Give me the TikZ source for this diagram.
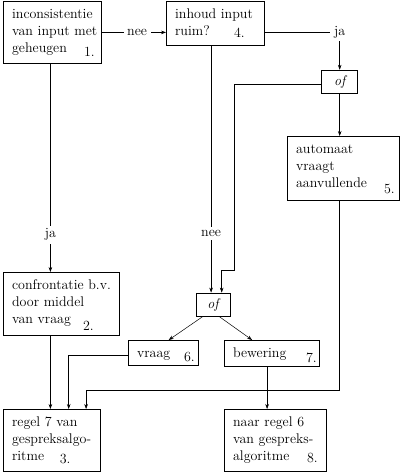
\documentclass[tikz,border=0pt]{standalone}
\usepackage{fontspec}
\usetikzlibrary{arrows.meta}
\newcommand{\tekst}{\fontsize{14}{17}\selectfont\hyphenpenalty=10000}
\begin{document}
\begin{tikzpicture}[x=1pt,y=-1pt,
        blok/.style={draw,line width=0.8pt,anchor=north west,align=left,inner xsep=8.7pt,inner ysep=0pt,text height=17.5pt,font=\tekst},
        ofblok/.style={draw,line width=0.8pt,minimum width=36pt,minimum height=23pt,inner sep=0pt,font=\tekst\itshape},
        nummer/.style={anchor=base east,inner sep=0pt,font=\tekst},
        etiket/.style={fill=white,inner xsep=3.5pt,inner ysep=3pt,font=\tekst},
        lijn/.style={line width=0.5pt},
        pijl/.style={lijn,-{Stealth[length=5pt,width=3.6pt]}}]
        \useasboundingbox (0,0) rectangle (400,473);
        \node[blok,text width=80.6pt,text depth=44.5pt] (inconsist) at (3,1) {inconsistentie\\van~input~met\\geheugen};
        \node[blok,text width=80.6pt,text depth=26.5pt] (inhoud) at (166,1) {inhoud~input\\ruim?};
        \node[ofblok] (of1) at (339.7,81.7) {of};
        \node[blok,text width=94.6pt,text depth=46.5pt] (automaat) at (287,136) {automaat\\vraagt\\aanvullende};
        \node[blok,text width=98.6pt,text depth=45.5pt] (confront) at (3,272) {confrontatie~b.v.\\door~middel\\van~vraag};
        \node[ofblok,minimum width=34pt] (of2) at (213,304.5) {of};
        \node[blok,text width=52.6pt,text depth=7.5pt] (vraag) at (128,340) {vraag};
        \node[blok,text width=77.6pt,text depth=8.5pt] (bewering) at (224,340) {bewering};
        \node[blok,text width=79.6pt,text depth=44.5pt] (regel7) at (3,409) {regel~7~van\\gespreksalgo-\\ritme};
        \node[blok,text width=84.6pt,text depth=44.5pt] (naar) at (224,409) {naar~regel~6\\van~gespreks-\\algoritme};
        % nummers
        \node[nummer] (nr1) at (95,57) {1.};
        \node[nummer] (nr4) at (245,38) {4.};
        \node[nummer] (nr5) at (395,193) {5.};
        \node[nummer] (nr2) at (94,330) {2.};
        \node[nummer] (nr6) at (195,361.5) {6.};
        \node[nummer] (nr7) at (317,362) {7.};
        \node[nummer] (nr3) at (70.7,463) {3.};
        \node[nummer] (nr8) at (318,462) {8.};
        % verbindingen
        \draw[pijl] (inconsist.east) -- node[etiket,pos=0.55] {nee} (inconsist.east -| inhoud.west);
        \node[etiket] (ja1) at (339.7,32) {ja};
        \draw[lijn] (inhoud.east |- ja1) -- (ja1.west);
        \draw[pijl] (of1.north |- ja1.south) -- (of1.north);
        \coordinate (knik1) at (234.3,270.7);
        \draw[pijl] ([yshift=-2.3pt]of1.west) -| (knik1) -| ([xshift=8.7pt]of2.north);
        \draw[pijl] (of1.south) -- (of1.south |- automaat.north);
        \draw[pijl] (automaat.south -| of1.south) -- ++(0,189.5) -| ([xshift=34.2pt]regel7.north);
        \draw[pijl] ([xshift=-2pt]inconsist.south) coordinate (s1) -- node[etiket,pos=0.82] {ja} (s1 |- confront.north);
        \draw[pijl] (s1 |- confront.south) -- (s1 |- regel7.north);
        \draw[pijl] ([xshift=-4.3pt]inhoud.south) coordinate (s4) -- node[etiket,pos=0.76] {nee} (s4 |- of2.north);
        \draw[pijl] ([xshift=-10pt]of2.south) -- ([xshift=5.3pt]vraag.north);
        \draw[pijl] ([xshift=6pt]of2.south) -- ([xshift=-19.8pt]bewering.north);
        \draw[pijl] ([yshift=-2pt]vraag.west) -| ([xshift=16.8pt]regel7.north);
        \draw[pijl] ([xshift=-4.8pt]bewering.south) coordinate (s7) -- (s7 |- naar.north);
    \end{tikzpicture}
\end{document}
